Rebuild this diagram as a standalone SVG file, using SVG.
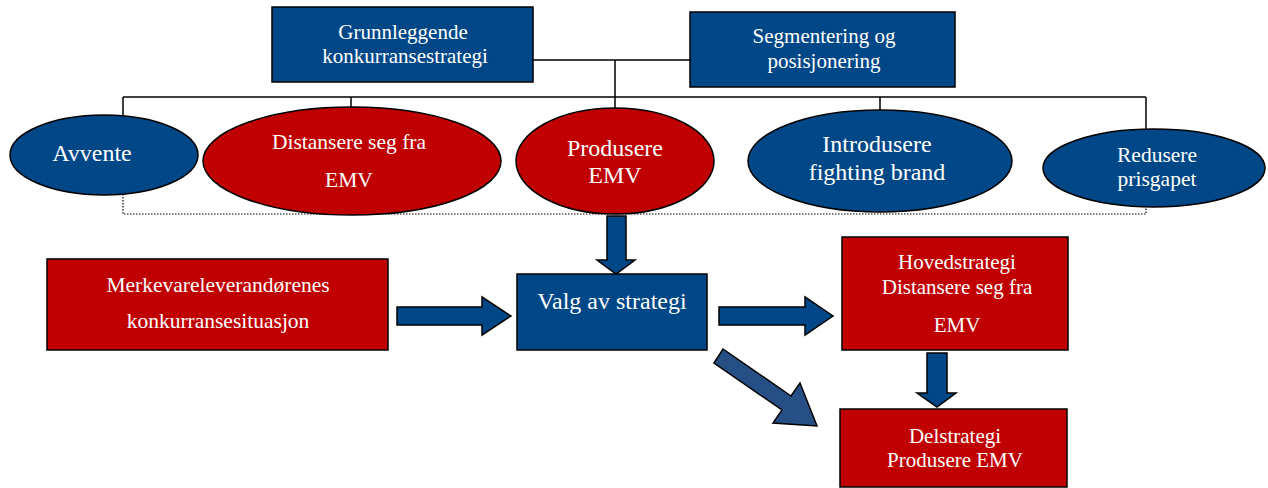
<svg xmlns="http://www.w3.org/2000/svg" width="1268" height="488" viewBox="0 0 1268 488">
  <style>
    .blue { fill: #004787; stroke: #000; stroke-width: 1.5; }
    .red { fill: #C00000; stroke: #000; stroke-width: 1.5; }
    .arrow { fill: #004787; stroke: #000; stroke-width: 1.5; stroke-linejoin: miter; }
    .line { fill: none; stroke: #000; stroke-width: 1.5; }
    .dot { fill: none; stroke: #000; stroke-width: 1.2; stroke-dasharray: 1.5 1.5; }
    text { font-family: "Liberation Serif", "Times New Roman", serif; fill: #fff; text-anchor: middle; }
    .s21 { font-size: 21px; }
    .s22 { font-size: 21.5px; }
    .s24 { font-size: 24px; }
  </style>

  <!-- connectors -->
  <g id="connectors">
    <path class="line" d="M533 60 H690 M615 60 V108 M123 97 H1146 M123 97 V132 M351 97 V107 M880 97 V110 M1146 97 V135"/>
    <path class="dot" d="M123 176 V214 H1146 V207 M352 208 V214 M615 210 V214 M880 208 V214"/>
    <!-- block arrows -->
    <path class="arrow" d="M607 216 H626 V260 H635 L616 274 L597 260 H607 Z"/>
    <path class="arrow" d="M397 307 H482 V297 L511 316 L482 335 V325 H397 Z"/>
    <path class="arrow" d="M719 307 H805 V297 L833 316 L805 335 V325 H719 Z"/>
    <path class="arrow" d="M927 353 H947 V393 H956 L937 407 L917 393 H927 Z"/>
    <path class="arrow" style="fill:#264F86" d="M714 363 L723 349 L791 396 L800 383 L817 426 L773 423 L782 410 Z"/>
  </g>

  <g id="grunnleggende">
    <rect class="blue" x="272" y="7" width="261" height="75"/>
    <text class="s21" x="403" y="39">Grunnleggende</text>
    <text class="s21" x="405" y="63">konkurransestrategi</text>
  </g>

  <g id="segmentering">
    <rect class="blue" x="690" y="12" width="265" height="75"/>
    <text class="s21" x="824" y="43">Segmentering og</text>
    <text class="s21" x="824" y="68">posisjonering</text>
  </g>

  <g id="avvente">
    <ellipse class="blue" cx="104" cy="155" rx="94" ry="40"/>
    <text class="s24" x="92" y="161">Avvente</text>
  </g>

  <g id="distansere">
    <ellipse class="red" cx="352" cy="161" rx="149" ry="54"/>
    <text class="s22" x="349" y="149">Distansere seg fra</text>
    <text class="s22" x="349" y="187">EMV</text>
  </g>

  <g id="produsere">
    <ellipse class="red" cx="615" cy="161" rx="99" ry="53"/>
    <text class="s24" x="615" y="156">Produsere</text>
    <text class="s24" x="615" y="183">EMV</text>
  </g>

  <g id="introdusere">
    <ellipse class="blue" cx="880" cy="161" rx="132" ry="51"/>
    <text class="s24" x="877" y="152">Introdusere</text>
    <text class="s24" x="877" y="180">fighting brand</text>
  </g>

  <g id="redusere">
    <ellipse class="blue" cx="1154" cy="168" rx="111" ry="39"/>
    <text class="s22" x="1157" y="162">Redusere</text>
    <text class="s22" x="1157" y="186">prisgapet</text>
  </g>

  <g id="merkevare">
    <rect class="red" x="47" y="259" width="341" height="91"/>
    <text class="s22" x="218" y="292">Merkevareleverandørenes</text>
    <text class="s22" x="218" y="328">konkurransesituasjon</text>
  </g>

  <g id="valg">
    <rect class="blue" x="517" y="274" width="190" height="76"/>
    <text class="s24" x="612" y="309">Valg av strategi</text>
  </g>

  <g id="hovedstrategi">
    <rect class="red" x="842" y="237" width="226" height="113"/>
    <text class="s21" x="957" y="269">Hovedstrategi</text>
    <text class="s21" x="957" y="294">Distansere seg fra</text>
    <text class="s21" x="957" y="332">EMV</text>
  </g>

  <g id="delstrategi">
    <rect class="red" x="840" y="409" width="227" height="78"/>
    <text class="s21" x="955" y="443">Delstrategi</text>
    <text class="s21" x="955" y="467">Produsere EMV</text>
  </g>
</svg>
